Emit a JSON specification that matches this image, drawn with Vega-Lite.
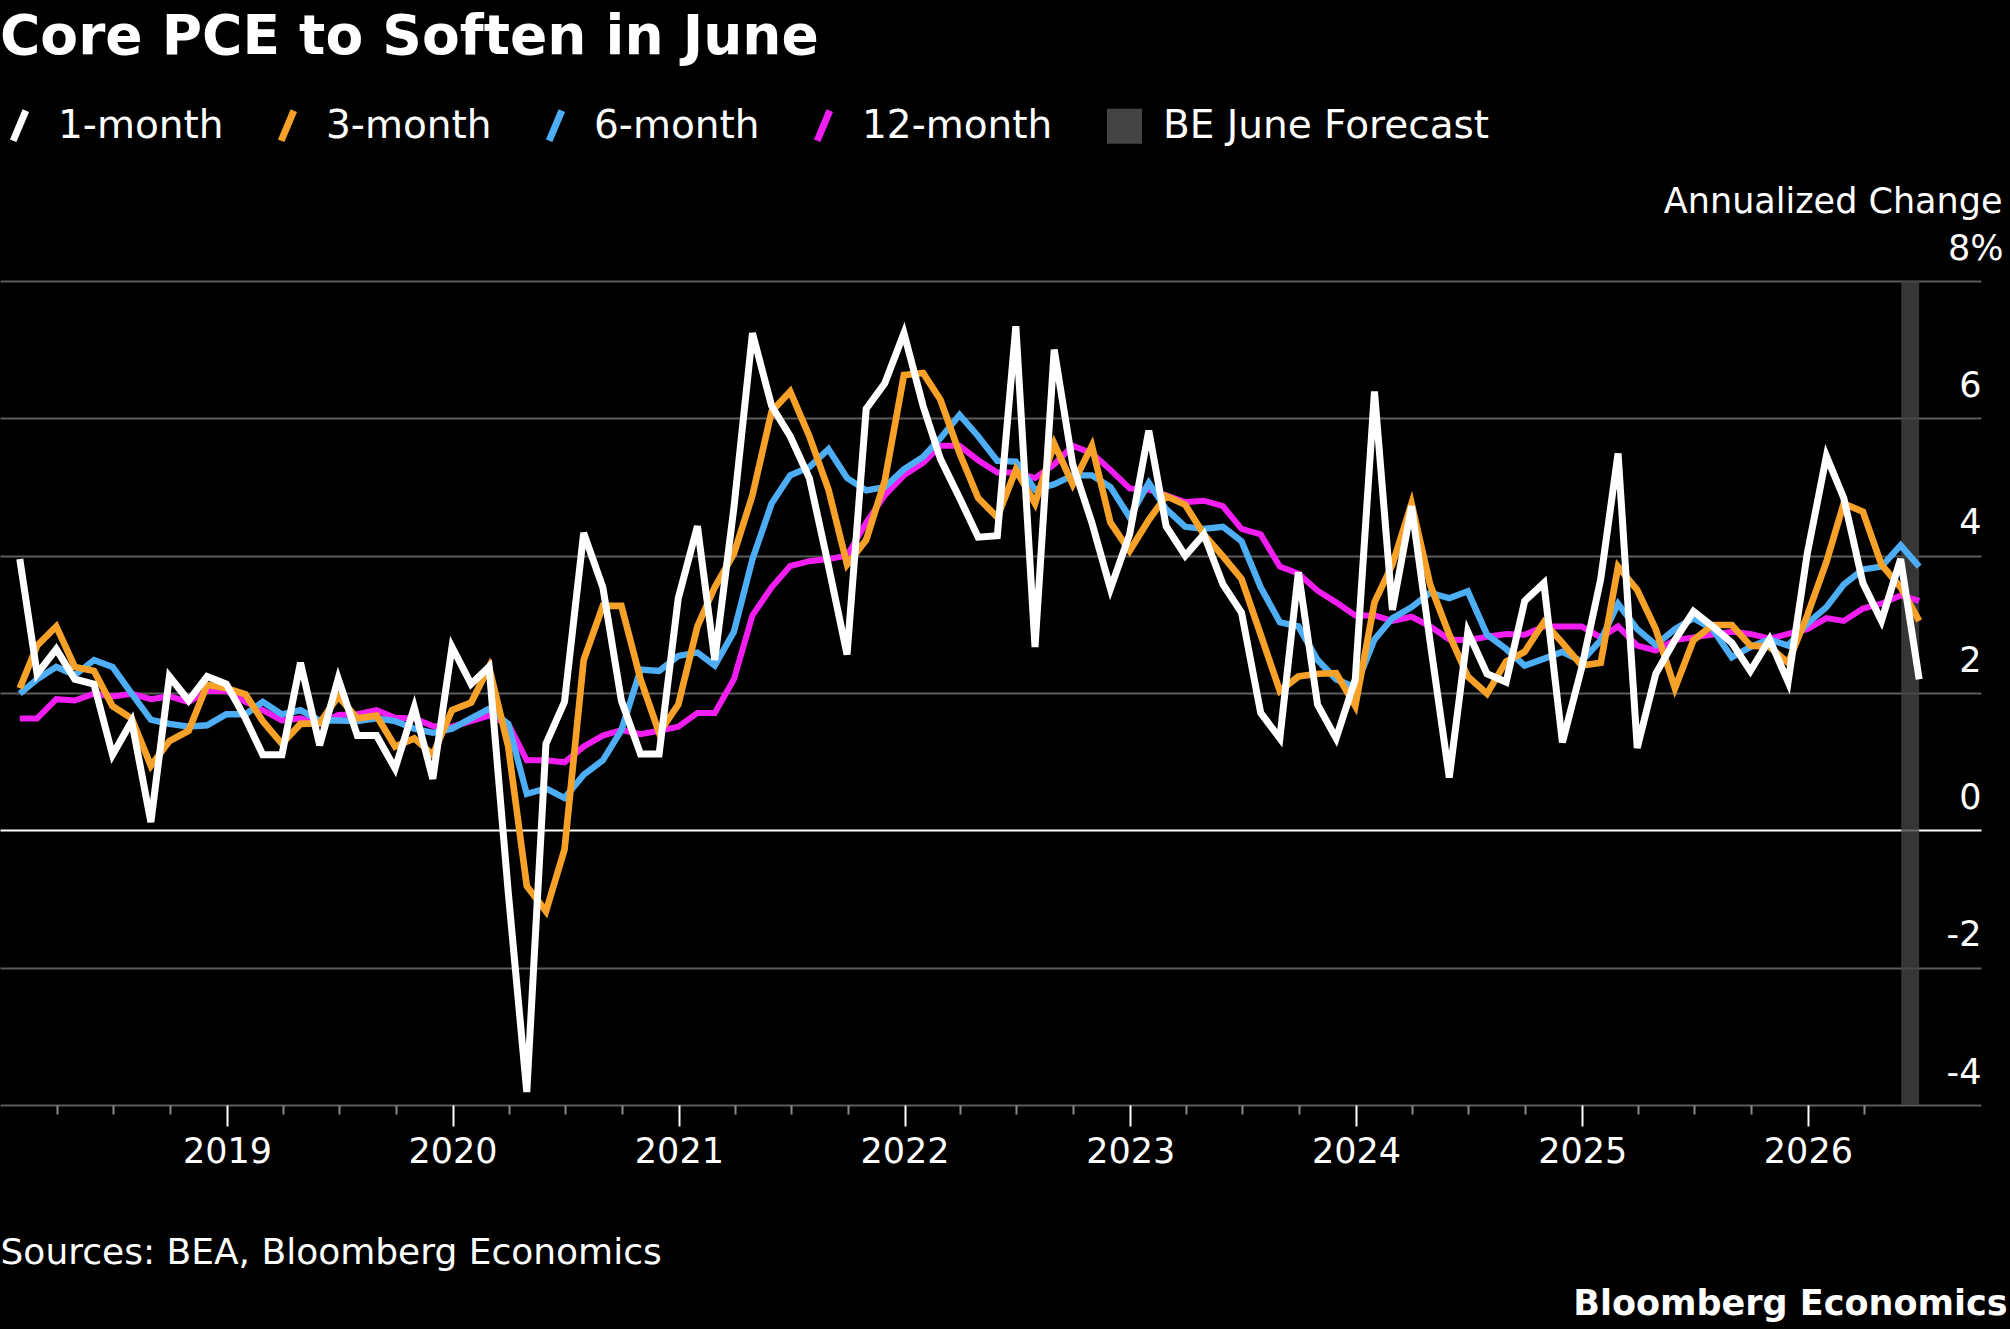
{
  "$schema": "https://vega.github.io/schema/vega-lite/v6.json",
  "width": 1981,
  "height": 824,
  "autosize": "none",
  "padding": {"left": 0, "top": 281, "right": 29, "bottom": 224},
  "background": "#000000",
  "config": {"view": {"stroke": null}, "font": "DejaVu Sans"},
  "title": {
    "text": "Core PCE to Soften in June",
    "anchor": "start",
    "frame": "group",
    "orient": "top",
    "baseline": "alphabetic",
    "offset": -3,
    "fontSize": 55,
    "fontWeight": "bold",
    "color": "#ffffff",
    "font": "DejaVu Sans"
  },
  "datasets": {
    "pce": [
      {"date": "2018-01-31", "1-month": 3.95, "3-month": 2.07, "6-month": 1.99, "12-month": 1.63},
      {"date": "2018-02-28", "1-month": 2.28, "3-month": 2.69, "6-month": 2.20, "12-month": 1.63},
      {"date": "2018-03-31", "1-month": 2.64, "3-month": 2.97, "6-month": 2.38, "12-month": 1.91},
      {"date": "2018-04-30", "1-month": 2.20, "3-month": 2.38, "6-month": 2.26, "12-month": 1.89},
      {"date": "2018-05-31", "1-month": 2.13, "3-month": 2.32, "6-month": 2.48, "12-month": 1.99},
      {"date": "2018-06-30", "1-month": 1.10, "3-month": 1.81, "6-month": 2.38, "12-month": 1.95},
      {"date": "2018-07-31", "1-month": 1.59, "3-month": 1.63, "6-month": 1.99, "12-month": 1.99},
      {"date": "2018-08-31", "1-month": 0.12, "3-month": 0.94, "6-month": 1.61, "12-month": 1.91},
      {"date": "2018-09-30", "1-month": 2.24, "3-month": 1.30, "6-month": 1.55, "12-month": 1.95},
      {"date": "2018-10-31", "1-month": 1.89, "3-month": 1.45, "6-month": 1.51, "12-month": 1.87},
      {"date": "2018-11-30", "1-month": 2.24, "3-month": 2.12, "6-month": 1.53, "12-month": 2.03},
      {"date": "2018-12-31", "1-month": 2.13, "3-month": 2.07, "6-month": 1.69, "12-month": 2.03},
      {"date": "2019-01-31", "1-month": 1.63, "3-month": 1.98, "6-month": 1.69, "12-month": 1.87},
      {"date": "2019-02-28", "1-month": 1.10, "3-month": 1.59, "6-month": 1.87, "12-month": 1.75},
      {"date": "2019-03-31", "1-month": 1.10, "3-month": 1.26, "6-month": 1.69, "12-month": 1.60},
      {"date": "2019-04-30", "1-month": 2.44, "3-month": 1.55, "6-month": 1.75, "12-month": 1.63},
      {"date": "2019-05-31", "1-month": 1.24, "3-month": 1.56, "6-month": 1.60, "12-month": 1.55},
      {"date": "2019-06-30", "1-month": 2.21, "3-month": 1.95, "6-month": 1.60, "12-month": 1.68},
      {"date": "2019-07-31", "1-month": 1.38, "3-month": 1.63, "6-month": 1.59, "12-month": 1.69},
      {"date": "2019-08-31", "1-month": 1.38, "3-month": 1.67, "6-month": 1.63, "12-month": 1.75},
      {"date": "2019-09-30", "1-month": 0.90, "3-month": 1.22, "6-month": 1.59, "12-month": 1.64},
      {"date": "2019-10-31", "1-month": 1.79, "3-month": 1.34, "6-month": 1.48, "12-month": 1.63},
      {"date": "2019-11-30", "1-month": 0.75, "3-month": 1.10, "6-month": 1.42, "12-month": 1.52},
      {"date": "2019-12-31", "1-month": 2.67, "3-month": 1.75, "6-month": 1.48, "12-month": 1.51},
      {"date": "2020-01-31", "1-month": 2.13, "3-month": 1.86, "6-month": 1.63, "12-month": 1.59},
      {"date": "2020-02-29", "1-month": 2.38, "3-month": 2.38, "6-month": 1.77, "12-month": 1.67},
      {"date": "2020-03-31", "1-month": -0.90, "3-month": 1.22, "6-month": 1.55, "12-month": 1.55},
      {"date": "2020-04-30", "1-month": -3.81, "3-month": -0.81, "6-month": 0.53, "12-month": 1.02},
      {"date": "2020-05-31", "1-month": 1.26, "3-month": -1.18, "6-month": 0.61, "12-month": 1.02},
      {"date": "2020-06-30", "1-month": 1.87, "3-month": -0.28, "6-month": 0.47, "12-month": 0.99},
      {"date": "2020-07-31", "1-month": 4.33, "3-month": 2.48, "6-month": 0.81, "12-month": 1.22},
      {"date": "2020-08-31", "1-month": 3.54, "3-month": 3.27, "6-month": 1.02, "12-month": 1.38},
      {"date": "2020-09-30", "1-month": 1.89, "3-month": 3.27, "6-month": 1.46, "12-month": 1.46},
      {"date": "2020-10-31", "1-month": 1.11, "3-month": 2.20, "6-month": 2.34, "12-month": 1.40},
      {"date": "2020-11-30", "1-month": 1.11, "3-month": 1.42, "6-month": 2.32, "12-month": 1.45},
      {"date": "2020-12-31", "1-month": 3.38, "3-month": 1.83, "6-month": 2.54, "12-month": 1.51},
      {"date": "2021-01-31", "1-month": 4.43, "3-month": 2.97, "6-month": 2.59, "12-month": 1.71},
      {"date": "2021-02-28", "1-month": 2.48, "3-month": 3.54, "6-month": 2.40, "12-month": 1.71},
      {"date": "2021-03-31", "1-month": 4.70, "3-month": 4.03, "6-month": 2.89, "12-month": 2.20},
      {"date": "2021-04-30", "1-month": 7.24, "3-month": 4.88, "6-month": 3.95, "12-month": 3.13},
      {"date": "2021-05-31", "1-month": 6.18, "3-month": 6.10, "6-month": 4.76, "12-month": 3.54},
      {"date": "2021-06-30", "1-month": 5.74, "3-month": 6.39, "6-month": 5.17, "12-month": 3.85},
      {"date": "2021-07-31", "1-month": 5.13, "3-month": 5.74, "6-month": 5.29, "12-month": 3.92},
      {"date": "2021-08-31", "1-month": 3.85, "3-month": 4.96, "6-month": 5.55, "12-month": 3.95},
      {"date": "2021-09-30", "1-month": 2.56, "3-month": 3.87, "6-month": 5.13, "12-month": 4.00},
      {"date": "2021-10-31", "1-month": 6.14, "3-month": 4.23, "6-month": 4.95, "12-month": 4.48},
      {"date": "2021-11-30", "1-month": 6.51, "3-month": 5.09, "6-month": 5.00, "12-month": 4.88},
      {"date": "2021-12-31", "1-month": 7.24, "3-month": 6.63, "6-month": 5.26, "12-month": 5.17},
      {"date": "2022-01-31", "1-month": 6.18, "3-month": 6.66, "6-month": 5.44, "12-month": 5.35},
      {"date": "2022-02-28", "1-month": 5.41, "3-month": 6.27, "6-month": 5.71, "12-month": 5.60},
      {"date": "2022-03-31", "1-month": 4.84, "3-month": 5.49, "6-month": 6.05, "12-month": 5.60},
      {"date": "2022-04-30", "1-month": 4.27, "3-month": 4.84, "6-month": 5.74, "12-month": 5.39},
      {"date": "2022-05-31", "1-month": 4.29, "3-month": 4.56, "6-month": 5.38, "12-month": 5.21},
      {"date": "2022-06-30", "1-month": 7.34, "3-month": 5.25, "6-month": 5.37, "12-month": 5.21},
      {"date": "2022-07-31", "1-month": 2.67, "3-month": 4.76, "6-month": 4.96, "12-month": 5.13},
      {"date": "2022-08-31", "1-month": 7.00, "3-month": 5.63, "6-month": 5.04, "12-month": 5.33},
      {"date": "2022-09-30", "1-month": 5.33, "3-month": 5.04, "6-month": 5.17, "12-month": 5.60},
      {"date": "2022-10-31", "1-month": 4.48, "3-month": 5.60, "6-month": 5.17, "12-month": 5.49},
      {"date": "2022-11-30", "1-month": 3.52, "3-month": 4.48, "6-month": 5.00, "12-month": 5.25},
      {"date": "2022-12-31", "1-month": 4.31, "3-month": 4.07, "6-month": 4.56, "12-month": 4.98},
      {"date": "2023-01-31", "1-month": 5.82, "3-month": 4.52, "6-month": 5.06, "12-month": 4.96},
      {"date": "2023-02-28", "1-month": 4.43, "3-month": 4.87, "6-month": 4.68, "12-month": 4.88},
      {"date": "2023-03-31", "1-month": 4.00, "3-month": 4.74, "6-month": 4.42, "12-month": 4.78},
      {"date": "2023-04-30", "1-month": 4.31, "3-month": 4.31, "6-month": 4.39, "12-month": 4.80},
      {"date": "2023-05-31", "1-month": 3.58, "3-month": 3.99, "6-month": 4.42, "12-month": 4.72},
      {"date": "2023-06-30", "1-month": 3.17, "3-month": 3.66, "6-month": 4.21, "12-month": 4.39},
      {"date": "2023-07-31", "1-month": 1.71, "3-month": 2.85, "6-month": 3.54, "12-month": 4.31},
      {"date": "2023-08-31", "1-month": 1.34, "3-month": 2.03, "6-month": 3.03, "12-month": 3.84},
      {"date": "2023-09-30", "1-month": 3.76, "3-month": 2.24, "6-month": 2.97, "12-month": 3.74},
      {"date": "2023-10-31", "1-month": 1.83, "3-month": 2.28, "6-month": 2.48, "12-month": 3.49},
      {"date": "2023-11-30", "1-month": 1.34, "3-month": 2.29, "6-month": 2.20, "12-month": 3.32},
      {"date": "2023-12-31", "1-month": 2.20, "3-month": 1.81, "6-month": 2.08, "12-month": 3.13},
      {"date": "2024-01-31", "1-month": 6.39, "3-month": 3.32, "6-month": 2.78, "12-month": 3.13},
      {"date": "2024-02-29", "1-month": 3.21, "3-month": 3.87, "6-month": 3.09, "12-month": 3.05},
      {"date": "2024-03-31", "1-month": 4.72, "3-month": 4.76, "6-month": 3.25, "12-month": 3.11},
      {"date": "2024-04-30", "1-month": 2.75, "3-month": 3.58, "6-month": 3.46, "12-month": 2.97},
      {"date": "2024-05-31", "1-month": 0.77, "3-month": 2.85, "6-month": 3.38, "12-month": 2.78},
      {"date": "2024-06-30", "1-month": 2.89, "3-month": 2.24, "6-month": 3.48, "12-month": 2.77},
      {"date": "2024-07-31", "1-month": 2.28, "3-month": 1.99, "6-month": 2.85, "12-month": 2.82},
      {"date": "2024-08-31", "1-month": 2.16, "3-month": 2.46, "6-month": 2.64, "12-month": 2.86},
      {"date": "2024-09-30", "1-month": 3.34, "3-month": 2.60, "6-month": 2.40, "12-month": 2.85},
      {"date": "2024-10-31", "1-month": 3.60, "3-month": 3.03, "6-month": 2.50, "12-month": 2.97},
      {"date": "2024-11-30", "1-month": 1.28, "3-month": 2.73, "6-month": 2.60, "12-month": 2.97},
      {"date": "2024-12-31", "1-month": 2.36, "3-month": 2.40, "6-month": 2.46, "12-month": 2.97},
      {"date": "2025-01-31", "1-month": 3.66, "3-month": 2.44, "6-month": 2.77, "12-month": 2.81},
      {"date": "2025-02-28", "1-month": 5.49, "3-month": 3.84, "6-month": 3.30, "12-month": 2.97},
      {"date": "2025-03-31", "1-month": 1.20, "3-month": 3.50, "6-month": 2.93, "12-month": 2.69},
      {"date": "2025-04-30", "1-month": 2.28, "3-month": 2.93, "6-month": 2.70, "12-month": 2.62},
      {"date": "2025-05-31", "1-month": 2.77, "3-month": 2.07, "6-month": 2.93, "12-month": 2.77},
      {"date": "2025-06-30", "1-month": 3.19, "3-month": 2.77, "6-month": 3.09, "12-month": 2.81},
      {"date": "2025-07-31", "1-month": 2.97, "3-month": 2.99, "6-month": 2.93, "12-month": 2.85},
      {"date": "2025-08-31", "1-month": 2.73, "3-month": 2.99, "6-month": 2.52, "12-month": 2.89},
      {"date": "2025-09-30", "1-month": 2.32, "3-month": 2.69, "6-month": 2.67, "12-month": 2.86},
      {"date": "2025-10-31", "1-month": 2.78, "3-month": 2.67, "6-month": 2.78, "12-month": 2.79},
      {"date": "2025-11-30", "1-month": 2.16, "3-month": 2.44, "6-month": 2.69, "12-month": 2.86},
      {"date": "2025-12-31", "1-month": 4.03, "3-month": 3.13, "6-month": 3.01, "12-month": 2.93},
      {"date": "2026-01-31", "1-month": 5.45, "3-month": 3.91, "6-month": 3.25, "12-month": 3.09},
      {"date": "2026-02-28", "1-month": 4.84, "3-month": 4.76, "6-month": 3.58, "12-month": 3.05},
      {"date": "2026-03-31", "1-month": 3.60, "3-month": 4.64, "6-month": 3.80, "12-month": 3.23},
      {"date": "2026-04-30", "1-month": 3.05, "3-month": 3.87, "6-month": 3.84, "12-month": 3.30},
      {"date": "2026-05-31", "1-month": 3.95, "3-month": 3.54, "6-month": 4.15, "12-month": 3.42},
      {"date": "2026-06-30", "1-month": 2.20, "3-month": 3.05, "6-month": 3.84, "12-month": 3.34}
    ],
    "forecast": [
      {"series": "BE June Forecast", "start": "2026-06-01", "end": "2026-06-30"}
    ]
  },
  "layer": [
    {
      "data": {"name": "forecast"},
      "mark": {"type": "rect", "opacity": 0.8},
      "encoding": {
        "x": {
          "field": "start",
          "type": "temporal",
          "scale": {"type": "utc", "domain": [{"year": 2017, "month": 12, "date": 30, "utc": true}, {"year": 2026, "month": 10, "date": 8, "utc": true}]},
          "axis": {
            "orient": "top",
            "labels": false,
            "ticks": false,
            "domain": false,
            "grid": false,
            "title": "Bloomberg Economics",
            "titleX": 2007,
            "titleY": 1033,
            "titleAlign": "right",
            "titleAnchor": "end",
            "titleBaseline": "alphabetic",
            "titleFontSize": 35,
            "titleFontWeight": "bold",
            "titleColor": "#ffffff",
            "titleFont": "DejaVu Sans"
          }
        },
        "x2": {"field": "end"},
        "color": {
          "field": "series",
          "type": "nominal",
          "scale": {"domain": ["1-month", "3-month", "6-month", "12-month", "BE June Forecast"], "range": ["#ffffff", "#F7A128", "#4DAEF5", "#F21DF0", "#444444"]}
        }
      }
    },
    {
      "data": {"name": "pce"},
      "transform": [{"fold": ["12-month", "6-month", "3-month", "1-month"], "as": ["series", "value"]}],
      "mark": {"type": "line", "strokeJoin": "miter"},
      "encoding": {
        "x": {
          "field": "date",
          "type": "temporal",
          "scale": {"type": "utc", "domain": [{"year": 2017, "month": 12, "date": 30, "utc": true}, {"year": 2026, "month": 10, "date": 8, "utc": true}]},
          "axis": {
            "orient": "bottom",
            "values": [
              {"year": 2018, "month": 4, "date": 1, "utc": true}, {"year": 2018, "month": 7, "date": 1, "utc": true}, {"year": 2018, "month": 10, "date": 1, "utc": true},
              {"year": 2019, "month": 1, "date": 1, "utc": true}, {"year": 2019, "month": 4, "date": 1, "utc": true}, {"year": 2019, "month": 7, "date": 1, "utc": true}, {"year": 2019, "month": 10, "date": 1, "utc": true},
              {"year": 2020, "month": 1, "date": 1, "utc": true}, {"year": 2020, "month": 4, "date": 1, "utc": true}, {"year": 2020, "month": 7, "date": 1, "utc": true}, {"year": 2020, "month": 10, "date": 1, "utc": true},
              {"year": 2021, "month": 1, "date": 1, "utc": true}, {"year": 2021, "month": 4, "date": 1, "utc": true}, {"year": 2021, "month": 7, "date": 1, "utc": true}, {"year": 2021, "month": 10, "date": 1, "utc": true},
              {"year": 2022, "month": 1, "date": 1, "utc": true}, {"year": 2022, "month": 4, "date": 1, "utc": true}, {"year": 2022, "month": 7, "date": 1, "utc": true}, {"year": 2022, "month": 10, "date": 1, "utc": true},
              {"year": 2023, "month": 1, "date": 1, "utc": true}, {"year": 2023, "month": 4, "date": 1, "utc": true}, {"year": 2023, "month": 7, "date": 1, "utc": true}, {"year": 2023, "month": 10, "date": 1, "utc": true},
              {"year": 2024, "month": 1, "date": 1, "utc": true}, {"year": 2024, "month": 4, "date": 1, "utc": true}, {"year": 2024, "month": 7, "date": 1, "utc": true}, {"year": 2024, "month": 10, "date": 1, "utc": true},
              {"year": 2025, "month": 1, "date": 1, "utc": true}, {"year": 2025, "month": 4, "date": 1, "utc": true}, {"year": 2025, "month": 7, "date": 1, "utc": true}, {"year": 2025, "month": 10, "date": 1, "utc": true},
              {"year": 2026, "month": 1, "date": 1, "utc": true}, {"year": 2026, "month": 4, "date": 1, "utc": true}
            ],
            "labelExpr": "utcmonth(datum.value) == 0 ? utcFormat(datum.value, '%Y') : ''",
            "labelOverlap": false,
            "labelFlush": false,
            "labelFontSize": 35,
            "labelFont": "DejaVu Sans",
            "labelColor": "#ffffff",
            "labelBaseline": "top",
            "labelPadding": 8,
            "tickSize": {"condition": {"test": "utcmonth(datum.value) == 0", "value": 21}, "value": 9},
            "tickColor": {"condition": {"test": "utcmonth(datum.value) == 0", "value": "#ffffff"}, "value": "#8a8a8a"},
            "tickWidth": 2,
            "domain": false,
            "grid": false,
            "title": "Sources: BEA, Bloomberg Economics",
            "titleX": 0,
            "titleY": 158,
            "titleAlign": "left",
            "titleAnchor": "start",
            "titleBaseline": "alphabetic",
            "titleFontSize": 36,
            "titleFontWeight": "normal",
            "titleColor": "#ffffff",
            "titleFont": "DejaVu Sans"
          }
        },
        "y": {
          "field": "value",
          "type": "quantitative",
          "scale": {"domain": [-4, 8], "nice": false, "zero": false},
          "axis": {
            "orient": "right",
            "values": [-4, -2, 0, 2, 4, 6, 8],
            "labelExpr": "datum.value == 8 ? '8%' : '' + datum.value",
            "domain": false,
            "ticks": false,
            "grid": true,
            "gridColor": {"condition": {"test": "datum.value == 0", "value": "#ffffff"}, "value": "#5c5c5c"},
            "gridWidth": 2,
            "labelAlign": "right",
            "labelBaseline": "alphabetic",
            "labelOffset": -22,
            "labelPadding": {"condition": {"test": "datum.value == 8", "value": 22}, "value": 0},
            "labelFontSize": 35,
            "labelFont": "DejaVu Sans",
            "labelColor": "#ffffff",
            "title": "Annualized Change",
            "titleAngle": 0,
            "titleX": 21,
            "titleY": -69,
            "titleAlign": "right",
            "titleBaseline": "alphabetic",
            "titleFontSize": 35,
            "titleFontWeight": "normal",
            "titleColor": "#ffffff",
            "titleFont": "DejaVu Sans"
          }
        },
        "color": {
          "field": "series",
          "type": "nominal",
          "scale": {"domain": ["1-month", "3-month", "6-month", "12-month", "BE June Forecast"], "range": ["#ffffff", "#F7A128", "#4DAEF5", "#F21DF0", "#444444"]},
          "legend": {
            "orient": "none",
            "legendX": 0,
            "legendY": -175,
            "direction": "horizontal",
            "columns": 5,
            "columnPadding": 43,
            "padding": 0,
            "title": null,
            "symbolSize": 1000,
            "symbolStrokeWidth": 7,
            "labelFontSize": 39,
            "labelLimit": 1000,
            "labelFont": "DejaVu Sans",
            "labelColor": "#ffffff",
            "labelOffset": 19,
            "encode": {
              "symbols": {
                "update": {
                  "shape": {"signal": "datum.value === 'BE June Forecast' ? 'square' : 'M-0.4,0.95L0.4,-0.95'"},
                  "size": {"signal": "datum.value === 'BE June Forecast' ? 784 : 1000"},
                  "fill": {"signal": "datum.value === 'BE June Forecast' ? '#3a3a3a' : 'transparent'"},
                  "stroke": {"signal": "datum.value === 'BE June Forecast' ? 'transparent' : scale('color', datum.value)"},
                  "strokeWidth": {"value": 7},
                  "opacity": {"value": 1}
                }
              }
            }
          }
        },
        "strokeWidth": {
          "field": "series",
          "type": "nominal",
          "scale": {"domain": ["1-month", "3-month", "6-month", "12-month"], "range": [7, 6, 6, 5]},
          "legend": null
        }
      }
    }
  ],
  "resolve": {"axis": {"x": "independent"}}
}
